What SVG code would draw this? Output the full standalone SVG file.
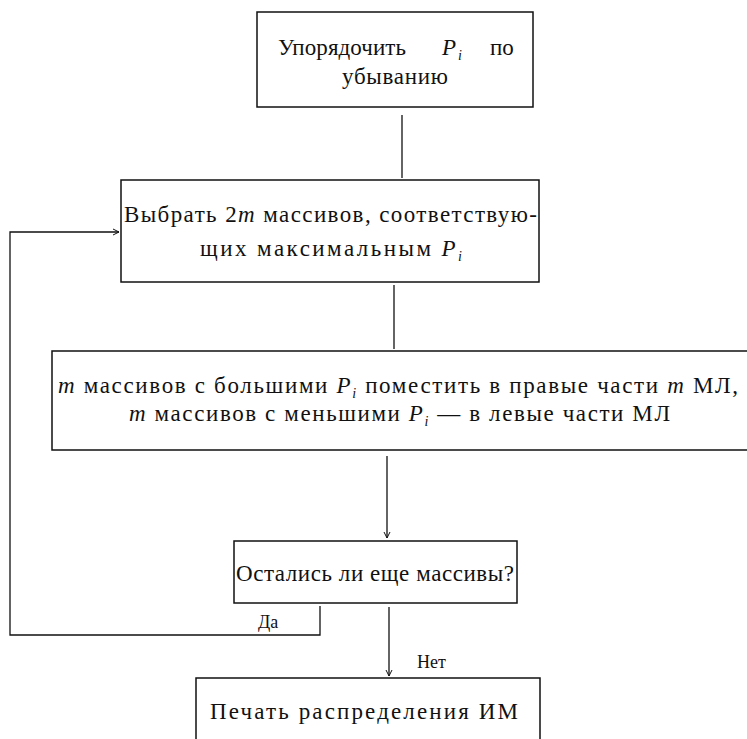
<svg xmlns="http://www.w3.org/2000/svg" width="747" height="739" viewBox="0 0 747 739" font-family="'Liberation Serif', 'Times New Roman', serif">
<style>
text{font-family:"Liberation Serif","Times New Roman",serif;font-size:23px;fill:#111}
.box{fill:none;stroke:#111;stroke-width:1.5}
.edge{fill:none;stroke:#111;stroke-width:1.3}
.it{font-style:italic}
.sub{font-size:14px;font-style:italic}
.lbl{font-size:18px}
</style>
<defs>
<marker id="ah" markerWidth="8" markerHeight="8" refX="7" refY="4" orient="auto" markerUnits="userSpaceOnUse"><path d="M1,1 L7,4 L1,7" fill="none" stroke="#111" stroke-width="1"/></marker>
</defs>
<rect width="747" height="739" fill="#fff"/>
<g id="n1">
<rect class="box" x="257" y="12" width="276" height="95"/>
<text x="278" y="55" textLength="128" lengthAdjust="spacing">Упорядочить</text>
<text x="442" y="55" class="it">P</text>
<text x="458" y="60" class="sub">i</text>
<text x="490" y="55">по</text>
<text x="342" y="84" textLength="106" lengthAdjust="spacing">убыванию</text>
</g>
<g id="n2">
<rect class="box" x="121" y="180" width="418" height="102"/>
<text x="124" y="222" textLength="413" lengthAdjust="spacing">Выбрать 2<tspan class="it">m</tspan> массивов, соответствую-</text>
<text x="200" y="256" textLength="262" lengthAdjust="spacing">щих максимальным <tspan class="it">P</tspan><tspan class="sub" dy="5">i</tspan></text>
</g>
<g id="n3">
<path class="box" d="M750,351 H52 V450 H750"/>
<text x="58" y="393" textLength="680" lengthAdjust="spacing"><tspan class="it">m</tspan> массивов с большими <tspan class="it">P</tspan><tspan class="sub" dy="5">i</tspan><tspan dy="-5"> поместить в правые части </tspan><tspan class="it">m</tspan> МЛ,</text>
<text x="129" y="421" textLength="541" lengthAdjust="spacing"><tspan class="it">m</tspan> массивов с меньшими <tspan class="it">P</tspan><tspan class="sub" dy="5">i</tspan><tspan dy="-5"> — в левые части МЛ</tspan></text>
</g>
<g id="n4">
<rect class="box" x="234" y="541" width="283" height="62"/>
<text x="236" y="581" textLength="278" lengthAdjust="spacing">Остались ли еще массивы?</text>
</g>
<g id="n5">
<path class="box" d="M196,745 V678 H540 V745"/>
<text x="210" y="719" textLength="308" lengthAdjust="spacing">Печать распределения ИМ</text>
</g>
<g id="connectors">
<path class="edge" d="M402,115 V178"/>
<path class="edge" d="M394,285 V349"/>
<path class="edge" d="M387,456 V538" marker-end="url(#ah)"/>
<path class="edge" d="M320,606 V635 H10 V232 H119" marker-end="url(#ah)"/>
<path class="edge" d="M389,607 V676" marker-end="url(#ah)"/>
<text x="258" y="628" class="lbl">Да</text>
<text x="417" y="668" class="lbl">Нет</text>
</g>
</svg>
